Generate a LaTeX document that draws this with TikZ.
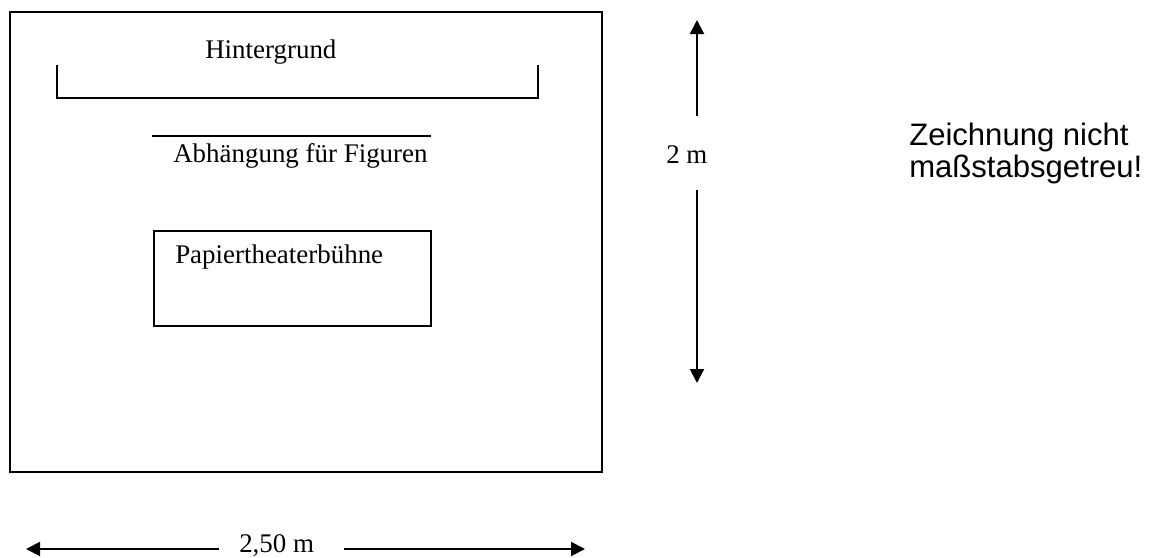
\documentclass[tikz,border=0pt]{standalone}
\usepackage{fontspec}
\setmainfont{Liberation Serif}
\newfontfamily\notefont{Liberation Sans}
\usetikzlibrary{arrows.meta}
\tikzset{
  line/.style={line width=1.5pt, line cap=rect},
  dimarrow/.style={line width=1.5pt, -{Triangle[length=10.5pt,width=10.5pt]}},
  serlabel/.style={inner sep=0pt, anchor=base west, font=\fontsize{20.2}{24}\selectfont},
  notelabel/.style={inner sep=0pt, anchor=base west, align=left, font=\notefont\fontsize{23.3}{23.3}\selectfont},
}
\begin{document}
\begin{tikzpicture}[x=0.75pt, y=-0.75pt]
\useasboundingbox (0,0) rectangle (1153,557);
% outer frame
\node[draw, line width=1.6pt, minimum width=592*0.75pt, minimum height=460*0.75pt, inner sep=0pt, anchor=north west] (frame) at (9,11) {};
% Hintergrund bracket
\coordinate (hgtl) at (57,66);
\coordinate (hgbl) at (57,98);
\coordinate (hgbr) at (538,98);
\coordinate (hgtr) at (538,66);
\draw[line] (hgtl) -- (hgbl) -- (hgbr) -- (hgtr);
\node[serlabel] (hg) at (205,58) {Hintergrund};
% Abhaengung
\coordinate (abl) at (153,136);
\coordinate (abr) at (430,136);
\draw[line] (abl) -- (abr);
\node[serlabel] (ab) at (173,162) {Abhängung für Figuren};
% Papiertheaterbuehne
\node[draw, line width=1.6pt, minimum width=277*0.75pt, minimum height=95*0.75pt, inner sep=0pt, anchor=north west] (stage) at (153,230) {};
\node[serlabel] (pt) at (175,263) {Papiertheaterbühne};
% vertical dimension
\node[serlabel] (hm) at (666,163) {2 m};
\coordinate (vtop) at (697,20);
\coordinate (vtopstart) at (697,116);
\coordinate (vbotstart) at (697,190);
\coordinate (vbot) at (697,383);
\draw[dimarrow] (vtopstart) -- (vtop);
\draw[dimarrow] (vbotstart) -- (vbot);
% horizontal dimension
\node[serlabel] (wm) at (239,552) {2,50 m};
\coordinate (hleft) at (26,549);
\coordinate (hleftstart) at (219,549);
\coordinate (hrightstart) at (344,549);
\coordinate (hright) at (585,549);
\draw[dimarrow] (hleftstart) -- (hleft);
\draw[dimarrow] (hrightstart) -- (hright);
% note
\node[notelabel] (note) at (909,177) {Zeichnung nicht\\maßstabsgetreu!};
\end{tikzpicture}
\end{document}
